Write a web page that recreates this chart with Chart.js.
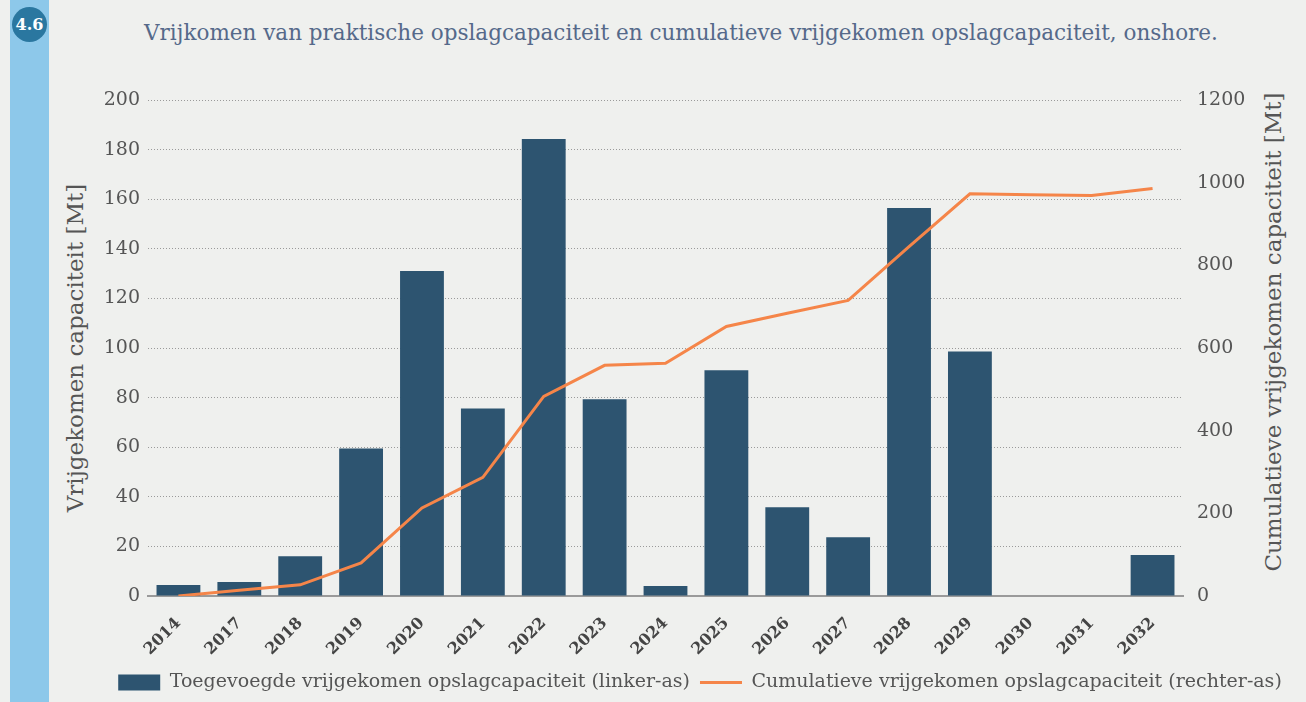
<!DOCTYPE html>
<html>
<head>
<meta charset="utf-8">
<script src="https://cdn.jsdelivr.net/npm/chart.js@4.4.1/dist/chart.umd.min.js"></script>
<style>
  html, body { margin: 0; padding: 0; background: #eff0ee; }
  body { width: 1306px; height: 702px; position: relative; overflow: hidden; font-family: "DejaVu Serif", serif; }
  #strook { position: absolute; left: 10px; top: 0; width: 39px; height: 702px; background: #8dc8ea; }
  #badge { position: absolute; left: 12px; top: 7px; width: 35px; height: 35px; border-radius: 50%; background: #2a77a0;
           color: #fff; font: bold 16px "DejaVu Serif", serif; text-align: center; line-height: 35px; }
  #titel { position: absolute; left: 50px; top: 20px; width: 1262px; text-align: center; color: #55698a; font-size: 21.5px; }
  .astitel { position: absolute; width: 600px; height: 30px; line-height: 30px; text-align: center; color: #555;
             font-size: 23px; transform: rotate(-90deg); white-space: nowrap; }
  #links { left: -225px; top: 333px; }
  #rechts { left: 973px; top: 317px; }
  #wrap { position: absolute; left: 0; top: 0; width: 1306px; height: 702px; }
</style>
</head>
<body>
<div id="strook"></div>
<div id="badge">4.6</div>
<div id="titel">Vrijkomen van praktische opslagcapaciteit en cumulatieve vrijgekomen opslagcapaciteit, onshore.</div>
<div class="astitel" id="links">Vrijgekomen capaciteit [Mt]</div>
<div class="astitel" id="rechts">Cumulatieve vrijgekomen capaciteit [Mt]</div>
<div id="wrap"><canvas id="grafiek" width="1306" height="702"></canvas></div>
<script>
// jaren op de x-as
const jaren = ["2014", "2017", "2018", "2019", "2020", "2021", "2022", "2023", "2024", "2025", "2026", "2027", "2028", "2029", "2030", "2031", "2032"]
// toegevoegde capaciteit per jaar (linker-as, Mt)
const toegevoegd = [4.4, 5.6, 16, 59.5, 131, 75.6, 184.3, 79.3, 4, 91, 35.8, 23.7, 156.5, 98.6, 0, 0, 16.5]
// cumulatief (rechter-as, Mt)
const cumulatief = [0, 14, 27, 80, 213, 287, 483, 558, 563, 652, 684, 715, 845, 973, 971, 969, 986]

const blauw = "#2d5470"
const oranje = "#f58549"
const tekstKleur = "#555"
const lettertype = "'DejaVu Serif', serif"

const ctx = document.getElementById("grafiek").getContext("2d")

new Chart(ctx, {
    type: "bar",
    data: {
        labels: jaren,
        datasets: [{
            label: "Toegevoegde vrijgekomen opslagcapaciteit (linker-as)",
            data: toegevoegd,
            backgroundColor: blauw,
            yAxisID: "y",
            categoryPercentage: 0.72,
            barPercentage: 1,
            order: 2
        }, {
            type: "line",
            label: "Cumulatieve vrijgekomen opslagcapaciteit (rechter-as)",
            data: cumulatief,
            borderColor: oranje,
            backgroundColor: oranje,
            borderWidth: 3,
            pointRadius: 0,
            tension: 0,
            yAxisID: "y2",
            order: 1
        }]
    },
    options: {
        responsive: false,
        animation: false,
        layout: { padding: { top: 100, left: 104, right: 10, bottom: 0 } },
        plugins: {
            title: { display: false },
            tooltip: { enabled: false },
            legend: {
                position: "bottom",
                labels: {
                    usePointStyle: true,
                    pointStyleWidth: 42,
                    boxHeight: 16,
                    padding: 10,
                    color: tekstKleur,
                    font: { family: lettertype, size: 19 },
                    generateLabels(chart) {
                        // legenda in dezelfde volgorde als de datasets, met rechthoek en lijn
                        const items = Chart.defaults.plugins.legend.labels.generateLabels(chart)
                        items.sort((a, b) => a.datasetIndex - b.datasetIndex)
                        items[0].pointStyle = "rect"
                        items[0].lineWidth = 0
                        items[1].pointStyle = "line"
                        items[1].lineWidth = 3
                        items[1].strokeStyle = oranje
                        return items
                    }
                }
            }
        },
        scales: {
            x: {
                afterFit: s => { s.height = 67 },
                grid: { display: false },
                border: { display: true, color: "#9a9a9a", width: 2 },
                ticks: {
                    minRotation: 45, maxRotation: 45, padding: 10,
                    color: "#444",
                    font: { family: lettertype, size: 16, weight: "bold" }
                }
            },
            y: {
                position: "left",
                min: 0, max: 200,
                afterFit: s => { s.width = 44 },
                grid: { color: "#9a9a9a", lineWidth: 1, drawTicks: false, borderDash: [1, 2] },
                border: { display: false, dash: [1, 2] },
                ticks: { stepSize: 20, padding: 8, color: tekstKleur, font: { family: lettertype, size: 19 } }
            },
            y2: {
                position: "right",
                min: 0, max: 1200,
                afterFit: s => { s.width = 113 },
                grid: { drawOnChartArea: false, drawTicks: false },
                border: { display: false },
                ticks: {
                    stepSize: 200, padding: 14, color: tekstKleur,
                    font: { family: lettertype, size: 19 },
                    callback: v => String(v)
                }
            }
        }
    }
})
</script>
</body>
</html>
